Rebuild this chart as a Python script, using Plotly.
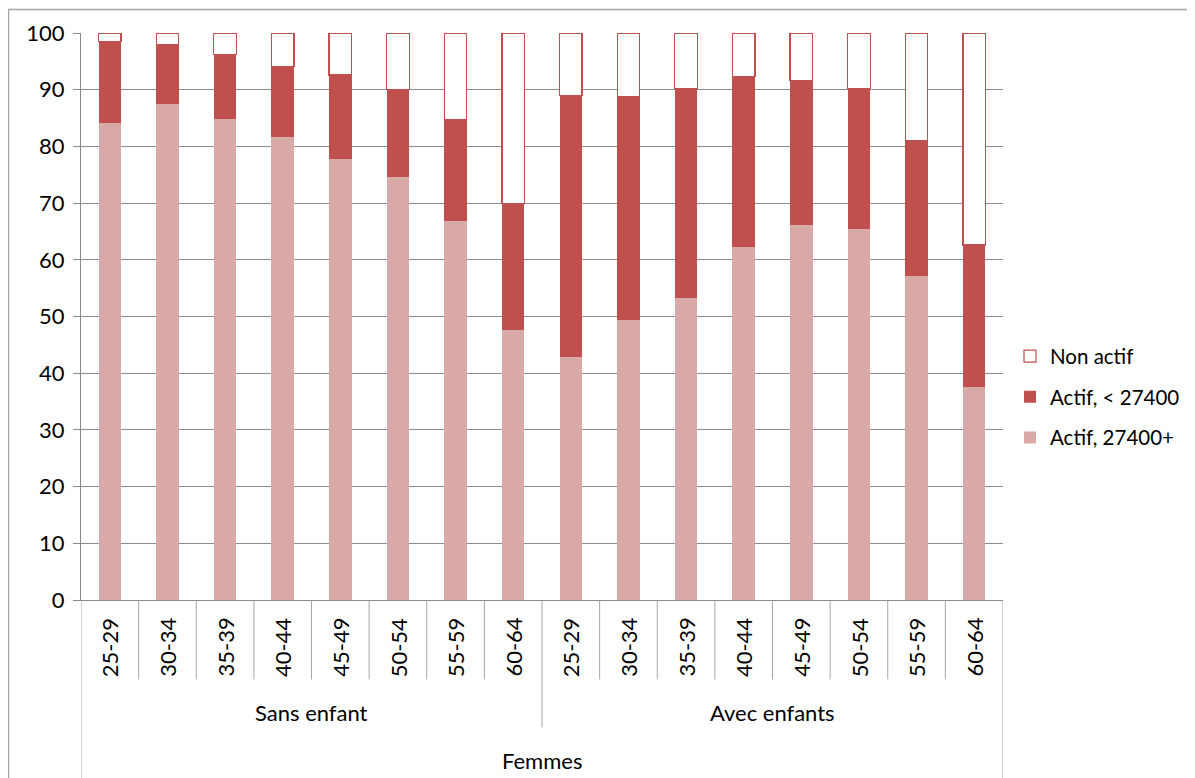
import plotly.graph_objects as go

ages = ["25-29", "30-34", "35-39", "40-44", "45-49", "50-54", "55-59", "60-64"]
groups = ["Sans enfant", "Avec enfants"]
top_label = "Femmes"

actif_haut = [84.1, 87.5, 84.9, 81.7, 77.7, 74.6, 66.8, 47.6,
              42.9, 49.4, 53.3, 62.2, 66.1, 65.4, 57.1, 37.6]
actif_bas = [14.4, 10.5, 11.3, 12.4, 14.9, 15.4, 18.0, 22.3,
             46.1, 39.4, 36.9, 30.1, 25.5, 24.8, 23.9, 25.0]
non_actif = [1.5, 2.0, 3.8, 5.9, 7.4, 10.0, 15.2, 30.1,
             11.0, 11.2, 9.8, 7.7, 8.4, 9.8, 19.0, 37.4]

cats = [a for g in groups for a in ages]
xs = list(range(len(cats)))

# page body has an 8px margin; compensate so the plot lands where the reference has it
OFF = 8
W, H = 1195 - OFF, 778 - OFF
L, R, T, B = 81, 1003, 32.5, 600.5  # reference pixel coords of the plot area
pw, ph = R - L, B - T

def px_y(y):
    return (B - y) / ph

def px_x(x):
    return (x - L) / pw

font = "Lato, 'Open Sans', sans-serif"
fs = 22
grid = "#8c8c8c"

fig = go.Figure()
fig.add_trace(go.Bar(x=xs, y=actif_haut, name="Actif, 27400+",
                     marker=dict(color="#D9A9A8", line=dict(width=0)),
                     legendrank=3, legendgroup="g3"))
fig.add_trace(go.Bar(x=xs, y=actif_bas, name="Actif, < 27400",
                     marker=dict(color="#C0504D", line=dict(width=0)),
                     legendrank=2, legendgroup="g2"))
fig.add_trace(go.Bar(x=xs, y=non_actif, name="Non actif",
                     marker=dict(color="#FFFFFF", line=dict(color="#C0504D", width=1.2)),
                     legendrank=1, legendgroup="g1"))

shapes = []
annotations = []
for i, c in enumerate(cats):
    annotations.append(dict(x=i, y=px_y(648), xref="x", yref="paper", text=c,
                            textangle=-90, showarrow=False, yanchor="middle",
                            font=dict(family=font, size=fs, color="#000")))
for i in range(len(cats) + 1):
    xpos = i - 0.5
    if i == 0 or i == len(cats):
        ybot = 800
    elif i % len(ages) == 0:
        ybot = 728
    else:
        ybot = 680
    shapes.append(dict(type="line", xref="x", yref="paper", x0=xpos, x1=xpos,
                       y0=px_y(601), y1=px_y(ybot), line=dict(color="#a6a6a6", width=1)))
for gi, g in enumerate(groups):
    center = gi * len(ages) + (len(ages) - 1) / 2
    annotations.append(dict(x=center, y=px_y(713), xref="x", yref="paper", text=g,
                            showarrow=False, yanchor="middle",
                            font=dict(family=font, size=fs, color="#000")))
annotations.append(dict(x=(len(cats) - 1) / 2, y=px_y(761), xref="x", yref="paper",
                        text=top_label, showarrow=False, yanchor="middle",
                        font=dict(family=font, size=fs, color="#000")))
# chart border (left and top)
shapes.append(dict(type="line", xref="paper", yref="paper", x0=px_x(8.5), x1=px_x(8.5),
                   y0=px_y(9), y1=px_y(800), line=dict(color="#a6a6a6", width=1.5)))
shapes.append(dict(type="line", xref="paper", yref="paper", x0=px_x(8), x1=px_x(1300),
                   y0=px_y(9), y1=px_y(9), line=dict(color="#a6a6a6", width=1.5)))

fig.update_layout(
    width=W, height=H,
    margin=dict(l=L - OFF, r=W - (R - OFF), t=T - OFF, b=H - (B - OFF), pad=0,
                autoexpand=False),
    barmode="stack", bargap=0.61,
    plot_bgcolor="white", paper_bgcolor="white",
    font=dict(family=font, size=fs, color="#000"),
    showlegend=True,
    legend=dict(x=px_x(1010), xanchor="left", y=px_y(397), yanchor="middle",
                traceorder="grouped", tracegroupgap=11,
                font=dict(family=font, size=20.5, color="#000"),
                itemwidth=30),
    xaxis=dict(range=[-0.5, len(cats) - 0.5], showticklabels=False, showgrid=False,
               zeroline=False, showline=True, linecolor=grid, linewidth=1,
               ticks=""),
    yaxis=dict(range=[0, 100], dtick=10, showgrid=True, gridcolor=grid, gridwidth=1,
               zeroline=False, showline=True, linecolor=grid, linewidth=1,
               ticks="outside", ticklen=7, tickcolor=grid, ticklabelstandoff=4,
               tickfont=dict(family=font, size=fs, color="#000")),
    shapes=shapes, annotations=annotations,
)

fig.write_html("out.html")
